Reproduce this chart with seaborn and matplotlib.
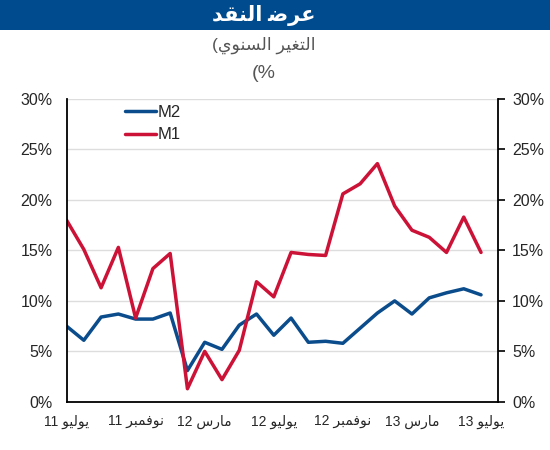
import numpy as np
import pandas as pd
import seaborn as sns
import matplotlib.pyplot as plt
from matplotlib.patches import Rectangle

sns.set_style("white")
plt.rcParams['font.family'] = ['Liberation Sans', 'DejaVu Sans']

# Arabic words in presentation forms, visual (left-to-right) order
JUL = "\uFEEE\uFEF4\uFEDF\uFEEE\uFEF3"
NOV = "\uFEAE\uFE92\uFEE4\uFED3\uFEEE\uFEE7"
MAR = "\uFEB1\uFEAD\uFE8E\uFEE3"
title = "\uFEAA\uFED8\uFEE8\uFEDF\uFE8D \uFEBF\uFEAE\uFECB"
subtitle1 = "(\uFEF1\uFEEE\uFEE8\uFEB4\uFEDF\uFE8D \uFEAE\uFEF4\uFED0\uFE98\uFEDF\uFE8D"
subtitle2 = "(%"

tick_labels = ["11 " + JUL, "11 " + NOV, "12 " + MAR, "12 " + JUL,
               "12 " + NOV, "13 " + MAR, "13 " + JUL]

# monthly, Jul 2011 .. Jul 2013
m2 = [7.5, 6.1, 8.4, 8.7, 8.2, 8.2, 8.8, 3.1, 5.9, 5.2, 7.6, 8.7, 6.6,
      8.3, 5.9, 6.0, 5.8, 7.3, 8.8, 10.0, 8.7, 10.3, 10.8, 11.2, 10.6]
m1 = [18.0, 15.1, 11.3, 15.3, 8.3, 13.2, 14.7, 1.3, 5.0, 2.2, 5.1, 11.9, 10.4,
      14.8, 14.6, 14.5, 20.6, 21.6, 23.6, 19.4, 17.0, 16.3, 14.8, 18.3, 14.8]

months = np.arange(len(m2))
df = pd.DataFrame({
    "month": np.concatenate([months, months]),
    "value": m2 + m1,
    "series": ["M2"] * len(m2) + ["M1"] * len(m1),
})

fig = plt.figure(figsize=(5.5, 4.5), dpi=100)
ax = fig.add_axes([0.121, 0.107, 0.785, 0.673])

sns.lineplot(data=df, x="month", y="value", hue="series",
             palette={"M2": "#0B4C8C", "M1": "#CC1237"}, linewidth=2.5, ax=ax)

ax.set_xlim(0, 25)
ax.set_ylim(0, 30)
ax.set_xticks(np.arange(0, 26))
ax.set_xticklabels([tick_labels[i // 4] if i % 4 == 0 and i // 4 < len(tick_labels) else ""
                    for i in range(26)], fontsize=10)
ax.set_yticks(np.arange(0, 31, 5))
ax.set_yticklabels([f"{v}%" for v in range(0, 31, 5)], fontsize=11.5)
ax.tick_params(axis="y", right=True, labelright=True, direction="out", length=5,
               width=1.2, color="black", pad=5)
ax.tick_params(axis="x", direction="out", length=4, width=1.2, color="black", pad=5)
ax.yaxis.grid(True, color="#DDDDDD", linewidth=1)
ax.set_xlabel("")
ax.set_ylabel("")
for side in ["left", "right", "bottom"]:
    ax.spines[side].set_color("black")
    ax.spines[side].set_linewidth(1.3)
ax.spines["top"].set_visible(False)

ax.legend(loc="upper left", bbox_to_anchor=(0.10, 1.03), frameon=False,
          fontsize=12, handlelength=1.9, handletextpad=0.1, labelspacing=0.45)

fig.patches.append(Rectangle((0, 1 - 30 / 450), 1, 30 / 450, transform=fig.transFigure,
                             facecolor="#004B8D", edgecolor="none", zorder=0))
fig.text(0.48, 1 - 15 / 450, title, color="white", fontsize=15, fontweight="bold",
         ha="center", va="center")
fig.text(0.48, 1 - 45 / 450, subtitle1, color="#555555", fontsize=12.5,
         ha="center", va="center")
fig.text(0.48, 1 - 73 / 450, subtitle2, color="#555555", fontsize=14,
         ha="center", va="center")

fig.savefig("out.png", dpi=100)
